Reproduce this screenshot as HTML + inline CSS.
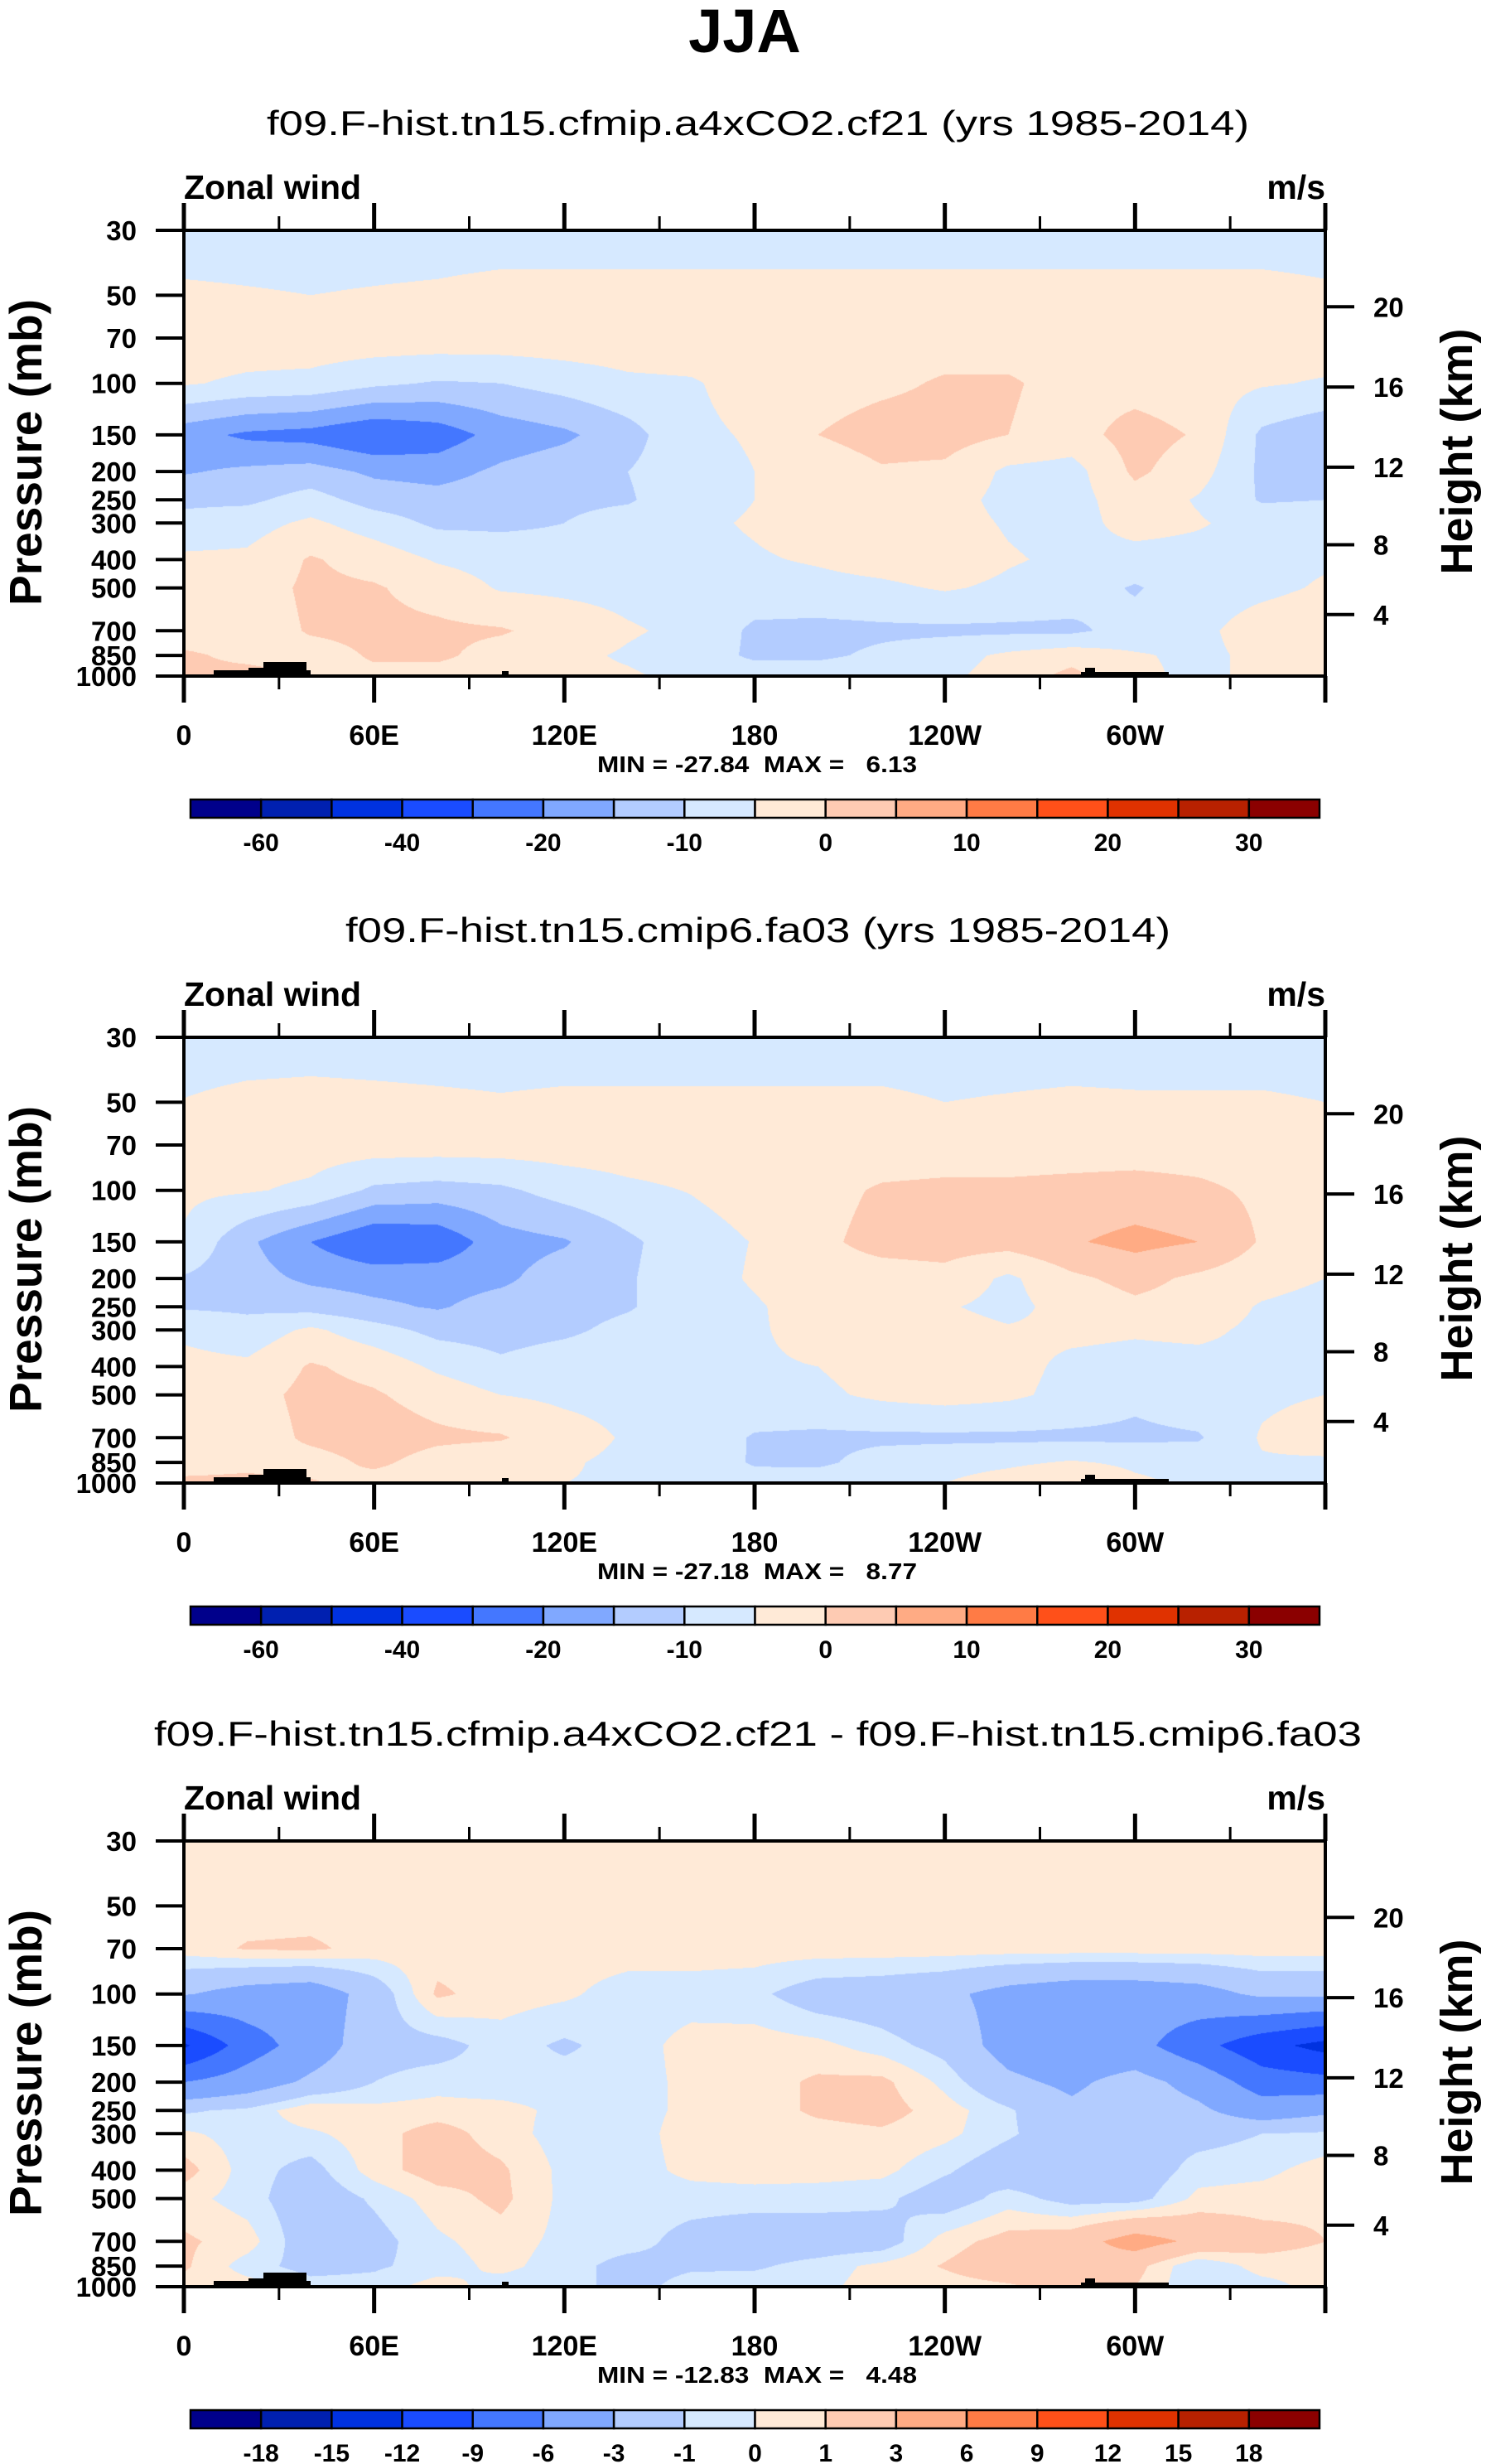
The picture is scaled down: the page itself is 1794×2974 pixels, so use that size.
<!DOCTYPE html>
<html><head><meta charset="utf-8"><title>JJA Zonal wind</title>
<style>
html,body{margin:0;padding:0;background:#fff;}
#wrap{position:relative;width:1794px;height:2974px;overflow:hidden;background:#fff;}
canvas{position:absolute;}
svg{position:absolute;left:0;top:0;}
text{font-family:"Liberation Sans",Arial,sans-serif;fill:#000;}
.pre{white-space:pre;}
</style></head>
<body>
<div id="wrap">
<canvas id="c0" width="1378" height="538" style="left:222px;top:278px"></canvas>
<canvas id="c1" width="1378" height="538" style="left:222px;top:1252px"></canvas>
<canvas id="c2" width="1378" height="538" style="left:222px;top:2222px"></canvas>
<svg id="svg" width="1794" height="2974" xmlns="http://www.w3.org/2000/svg">
<text x="899" y="63" text-anchor="middle" font-size="74" font-weight="bold">JJA</text>
</svg>
</div>
<script>
// ---- data ----
const lons = [0,20,40,60,80,100,120,140,160,180,200,220,240,260,280,300,320,340,360];
const levels = [30,50,70,100,150,200,250,300,400,500,700,850,1000];
const u1 = [
[-8,-8,-8,-8,-8,-8,-8,-8,-8,-8,-8,-8,-8,-8,-8,-8,-8,-8,-8],
[-4,-4.5,-5,-4.5,-4,-3,-3,-3,-3,-3,-3,-3,-3,-3,-3,-3,-3,-3,-4],
[-2,-2,-2,-2,-2,-2,-2,-2,-2,-2,-2,-2,-2,-2,-2,-2,-2,-2,-2],
[-4.5,-6,-6.5,-9,-10.5,-10,-8,-6,-5.5,-3,-2,-1,0.5,0.5,-1.5,-2,-3,-4.5,-5.5],
[-18,-21,-22,-25,-23,-18,-16,-12,-6,-4.5,0,2,2,0,-2,2,-0.5,-11,-14],
[-15.5,-14,-13,-16,-17,-14,-12,-10,-7,-5,-3,-0.5,-1,-6,-7,1,-3,-11,-12],
[-11,-11,-8,-12,-13,-12,-11,-10.5,-7,-5,-3,-2,-3,-6.5,-7,-2,-5.5,-10.5,-10],
[-8.5,-7,-4,-7.5,-11,-11,-10,-8,-6,-4.5,-2.5,-2,-3,-5.5,-7,-3,-4.5,-7,-7],
[-4,-4,0.5,-2,-5.5,-7,-8,-7,-6.5,-5.5,-4.5,-3,-2,-4.5,-6,-7,-7,-6.5,-5.5],
[-3,-2.5,1,0.5,-2,-5.5,-6,-6.5,-7,-7,-6.5,-6,-4.5,-6,-7.5,-10.5,-7,-6,-4.5],
[-3.5,-3,0.5,1.2,1,0.5,-2,-4.5,-6,-11,-11.5,-11,-11,-11,-11,-8,-6,-3,-2],
[1,-1.5,-2,0.5,1,-2,-4,-5.5,-7,-11,-11,-9,-7,-4,-2,-4.5,-6,-4,-3],
[1,2,-1,-1,-2,-3,-4,-4.5,-6,-7,-7,-6,-6,-3,1.5,-4,-6,-4,-1]
];
const u2 = [
[-8,-8,-8,-8,-8,-8,-8,-8,-8,-8,-8,-8,-8,-8,-8,-8,-8,-8,-8],
[-4.8,-3.5,-3,-3.5,-4,-4.5,-4,-4,-4,-4,-4,-4,-5,-4.5,-4,-4.3,-4.3,-4.3,-5],
[-2.5,-2.5,-2.5,-2.5,-2.5,-2.5,-2.5,-2.5,-2.5,-2.5,-2.5,-2.5,-2.5,-2.5,-2.5,-2.5,-2.5,-2.5,-2.5],
[-4,-4.5,-6,-11,-12,-11,-8,-6,-4.8,-3,-1.5,0.5,1,1,1.5,2,1,-1,-2],
[-5.5,-14,-20,-25,-24,-17,-15.5,-11,-7,-4.8,-1,1.5,2,2,4.5,6.5,5,-0.5,-3],
[-10.5,-13,-16,-17,-17,-16,-12.5,-10.5,-7,-4.5,-2,-2,-1.5,-6,-1,1.5,-1,-3,-5],
[-10.5,-11,-12,-14,-15.5,-13,-12,-10.5,-7,-5.5,-3,-2,-4.5,-6.5,-3,-1,-2,-5.5,-7],
[-6,-8,-4,-8,-11.5,-12,-11,-8.5,-6.5,-5.5,-3.5,-2,-3,-4.5,-4,-4.5,-4,-6,-7],
[-3.5,-4,0.5,-1.5,-6,-9,-7,-6.5,-6,-5.5,-5,-3,-2,-3.5,-6,-6.5,-6.5,-6,-6],
[-3,-2,1.5,0.5,-2,-5,-6,-6.5,-6.5,-6.5,-6,-4,-3,-4,-6.5,-9,-7,-6,-5],
[-3,-3,1,2.5,1,0.5,-3,-5.5,-6.5,-10.5,-11,-11,-11,-11,-11,-11,-10.5,-4.5,-2],
[-2,-1,-2,1,-2,-3.5,-4.5,-6,-7,-10.5,-11,-8,-7,-6,-4.5,-6,-7,-5.5,-6],
[1,1,0.5,-2,-2.5,-4,-5,-5.5,-7,-8,-7,-6,-5,-2.5,0.5,-4,-6,-6,-6]
];
const udiff = [
[0.5,0.5,0.5,0.5,0.5,0.5,0.5,0.5,0.5,0.5,0.5,0.5,0.5,0.5,0.5,0.5,0.5,0.5,0.5],
[0.5,0.5,0.5,0.5,0.5,0.5,0.5,0.5,0.5,0.5,0.5,0.5,0.5,0.5,0.5,0.5,0.5,0.5,0.5],
[0.5,1.1,1.2,0.6,0.5,0.5,0.5,0.5,0.5,0.5,0.5,0.5,0.5,0.5,0.5,0.5,0.5,0.5,0.5],
[-2.8,-4,-4.5,-2,1.2,0.5,0.2,-0.5,-0.5,-0.7,-1.8,-2,-2.5,-3.8,-4.5,-4.5,-4,-2.5,-2.5],
[-12.5,-7.5,-4.5,-1.5,-1.5,-0.5,-1.2,-0.5,0.4,0.5,0.3,-0.5,-1.5,-4,-5,-5,-8,-11,-13],
[-6,-4.5,-2.5,-1,-0.5,-0.7,-0.5,-0.5,0.3,0.5,1.2,1.3,-0.3,-2.5,-3.5,-2,-4,-7.5,-8],
[-1.2,-0.7,0.8,0.3,0.5,0.4,-0.3,-0.5,0.3,0.5,1.2,1.5,0.5,-0.8,-2.5,-1.5,-2.5,-4.5,-3.5],
[0.2,-0.5,-0.2,0.6,1.5,0.5,-0.5,-0.5,0.5,0.5,0.6,0.8,0.3,-0.8,-2,-1.5,-1.5,-1,-0.8],
[1.5,-0.5,-1.5,0.5,1.6,1.2,-0.3,-0.5,0.3,0.5,0.4,0.3,-0.8,-2,-2,-2,-0.5,-0.3,0.5],
[0.4,-0.5,-2,-0.8,0.5,1.3,-0.3,-0.5,-0.5,-0.5,-0.5,-0.7,-1.8,-0.5,-1.5,-1.5,0.3,0.5,0.8],
[1.2,0.5,-2,-1.5,-0.2,0.5,-0.3,-0.5,-1.5,-2,-2,-1.8,0.5,1.5,2,4,2.5,1.5,1],
[1.2,-0.5,-1.5,-1.2,-0.5,0.3,-0.5,-1.5,-1.2,-1.2,-0.5,0.3,1.1,2,2.5,1.5,-1,0.5,0.5],
[0.5,0.5,-0.5,-0.5,0.5,-0.5,-0.5,-1.5,-0.5,-0.3,-0.3,0.5,0.5,0.8,1.5,1,-1,-0.5,0.5]
];
const contourLevelsAbs = [-60,-50,-40,-30,-20,-15,-10,-5,0,5,10,15,20,25,30];
const contourLevelsDiff = [-18,-15,-12,-9,-6,-3,-1,0,1,3,6,9,12,15,18];
const cbLabelsAbs = ["","-60","","-40","","-20","","-10","","0","","10","","20","","30",""];
const cbLabelsDiff = ["","-18","-15","-12","-9","-6","-3","-1","0","1","3","6","9","12","15","18",""];
const pressureTicks = [30,50,70,100,150,200,250,300,400,500,700,850,1000];
const heightTicks = [4,8,12,16,20];
const lonTickVals = [0,60,120,180,240,300];
const lonTickLabels = ["0","60E","120E","180","120W","60W"];
const subtitles = ["f09.F-hist.tn15.cfmip.a4xCO2.cf21 (yrs 1985-2014)","f09.F-hist.tn15.cmip6.fa03 (yrs 1985-2014)","f09.F-hist.tn15.cfmip.a4xCO2.cf21 - f09.F-hist.tn15.cmip6.fa03"];
const subtitleWidths = [1186,996,1458];
const minVals = ["-27.84","-27.18","-12.83"];
const maxVals = ["6.13","8.77","4.48"];
const palette = ["#00008b","#0020b0","#0032e0","#1a4cff","#4477ff","#80a8ff","#b3ccff","#d6e9ff","#ffead7","#fecbb3","#ffab84","#ff7b45","#ff5019","#e03200","#b82100","#8b0000"];

// ---- geometry ----
const L=222, W=1378, H=538, tops=[278,1252,2222];
const lnTop=Math.log(30), lnBot=Math.log(1000);
function xOfLon(lon){return L+lon/360*W;}
function yOfP(T,p){return T+(Math.log(p)-lnTop)/(lnBot-lnTop)*H;}
function pOfZ(z){return z<=11?1013.25*Math.pow(1-z/44.3308,5.2559):226.32*Math.exp(-(z-11)/6.3416);}
function hexRgb(h){return [parseInt(h.substr(1,2),16),parseInt(h.substr(3,2),16),parseInt(h.substr(5,2),16)];}
const palRgb=palette.map(hexRgb);

function drawField(cid,grid,thr){
  const cv=document.getElementById(cid),ctx=cv.getContext('2d');
  const img=ctx.createImageData(W,H),d=img.data;
  const lnLev=levels.map(Math.log);
  const nC=lons.length-1;
  for(let py=0;py<H;py++){
    const lp=lnTop+(py+0.5)/H*(lnBot-lnTop);
    let r=0;while(r<levels.length-2&&lp>lnLev[r+1])r++;
    let t=(lp-lnLev[r])/(lnLev[r+1]-lnLev[r]);t=Math.max(0,Math.min(1,t));
    for(let px=0;px<W;px++){
      const lon=(px+0.5)/W*360;
      let ci=lon/(lons[1]-lons[0]);let c=Math.min(nC-1,Math.floor(ci));let s=ci-c;
      const v=(1-t)*((1-s)*grid[r][c]+s*grid[r][c+1])+t*((1-s)*grid[r+1][c]+s*grid[r+1][c+1]);
      let k=0;while(k<thr.length&&v>=thr[k])k++;
      const col=palRgb[k],o=(py*W+px)*4;
      d[o]=col[0];d[o+1]=col[1];d[o+2]=col[2];d[o+3]=255;
    }
  }
  ctx.putImageData(img,0,0);
}
drawField('c0',u1,contourLevelsAbs);
drawField('c1',u2,contourLevelsAbs);
drawField('c2',udiff,contourLevelsDiff);

const NS="http://www.w3.org/2000/svg";
const svg=document.getElementById('svg');
function mk(tag,attrs,txt){const e=document.createElementNS(NS,tag);for(const k in attrs)e.setAttribute(k,attrs[k]);if(txt!==undefined)e.textContent=txt;svg.appendChild(e);return e;}

for(let i=0;i<3;i++){
  const T=tops[i],B=T+H,R=L+W;
  const isDiff=i===2;
  let e;
  e=mk('text',{x:915,y:T-115,'text-anchor':'middle','font-size':42,textLength:subtitleWidths[i],lengthAdjust:'spacingAndGlyphs'},subtitles[i]);
  
  
  e=mk('text',{x:L,y:T-38,'font-size':41,'font-weight':'bold'},'Zonal wind');
  
  
  e=mk('text',{x:R,y:T-38,'font-size':41,'font-weight':'bold','text-anchor':'end'},'m/s');
  
  
  // topography
  const topo=[[258,375,7],[300,350,10],[318,370,17],[1305,1411,5],[1310,1322,10],[606,614,6]];
  topo.forEach(tp=>{const r=mk('rect',{x:tp[0],y:B-tp[2],width:tp[1]-tp[0],height:tp[2],fill:'#000'});
    
    });
  // frame
  e=mk('rect',{x:L,y:T,width:W,height:H,fill:'none',stroke:'#000','stroke-width':4});
  
  
  // lon ticks
  for(let lon=0;lon<=360;lon+=30){
    const x=xOfLon(lon),major=lon%60===0,len=major?33:17;
    e=mk('line',{x1:x,y1:T,x2:x,y2:T-len,stroke:'#000','stroke-width':major?5:3});
    
    
    e=mk('line',{x1:x,y1:B,x2:x,y2:B+(major?32:16),stroke:'#000','stroke-width':major?5:3});
    
    
  }
  lonTickVals.forEach((lv,j)=>{
    const t=mk('text',{x:xOfLon(lv),y:T+621,'text-anchor':'middle','font-size':34,'font-weight':'bold'},lonTickLabels[j]);
    
    
  });
  // pressure ticks
  pressureTicks.forEach(p=>{
    const y=yOfP(T,p);
    const l=mk('line',{x1:L,y1:y,x2:188,y2:y,stroke:'#000','stroke-width':4});
    
    
    const t=mk('text',{x:165,y:y+12,'text-anchor':'end','font-size':33,'font-weight':'bold'},String(p));
    
    
  });
  // height ticks
  heightTicks.forEach(z=>{
    const y=yOfP(T,pOfZ(z));
    const l=mk('line',{x1:R,y1:y,x2:R+35,y2:y,stroke:'#000','stroke-width':4});
    
    
    const t=mk('text',{x:1658,y:y+12,'font-size':33,'font-weight':'bold'},String(z));
    
    
  });
  e=mk('text',{x:0,y:0,'font-size':55,'font-weight':'bold','text-anchor':'middle',transform:'translate(50,'+(T+268)+') rotate(-90)'},'Pressure (mb)');
  
  
  e=mk('text',{x:0,y:0,'font-size':54,'font-weight':'bold','text-anchor':'middle',transform:'translate(1777,'+(T+267)+') rotate(-90)'},'Height (km)');
  
  
  e=mk('text',{x:914,y:T+654,'text-anchor':'middle','font-size':28,'font-weight':'bold','class':'pre',textLength:386,lengthAdjust:'spacingAndGlyphs'},'MIN = '+minVals[i]+'  MAX =   '+maxVals[i]);
  
  
  // colorbar
  const cbL=230,cbR=1593,cbT=T+687,cbH=22,bw=(cbR-cbL)/16;
  for(let k=0;k<16;k++){
    const r=mk('rect',{x:cbL+k*bw,y:cbT,width:bw,height:cbH,fill:palette[k],stroke:'#000','stroke-width':2.5});
    
    
  }
  const labs=isDiff?cbLabelsDiff:cbLabelsAbs;
  labs.forEach((s,k)=>{ if(!s)return;
    const t=mk('text',{x:cbL+k*bw,y:T+749,'text-anchor':'middle','font-size':30,'font-weight':'bold'},s);
    
    
  });
}
</script>
</body></html>
